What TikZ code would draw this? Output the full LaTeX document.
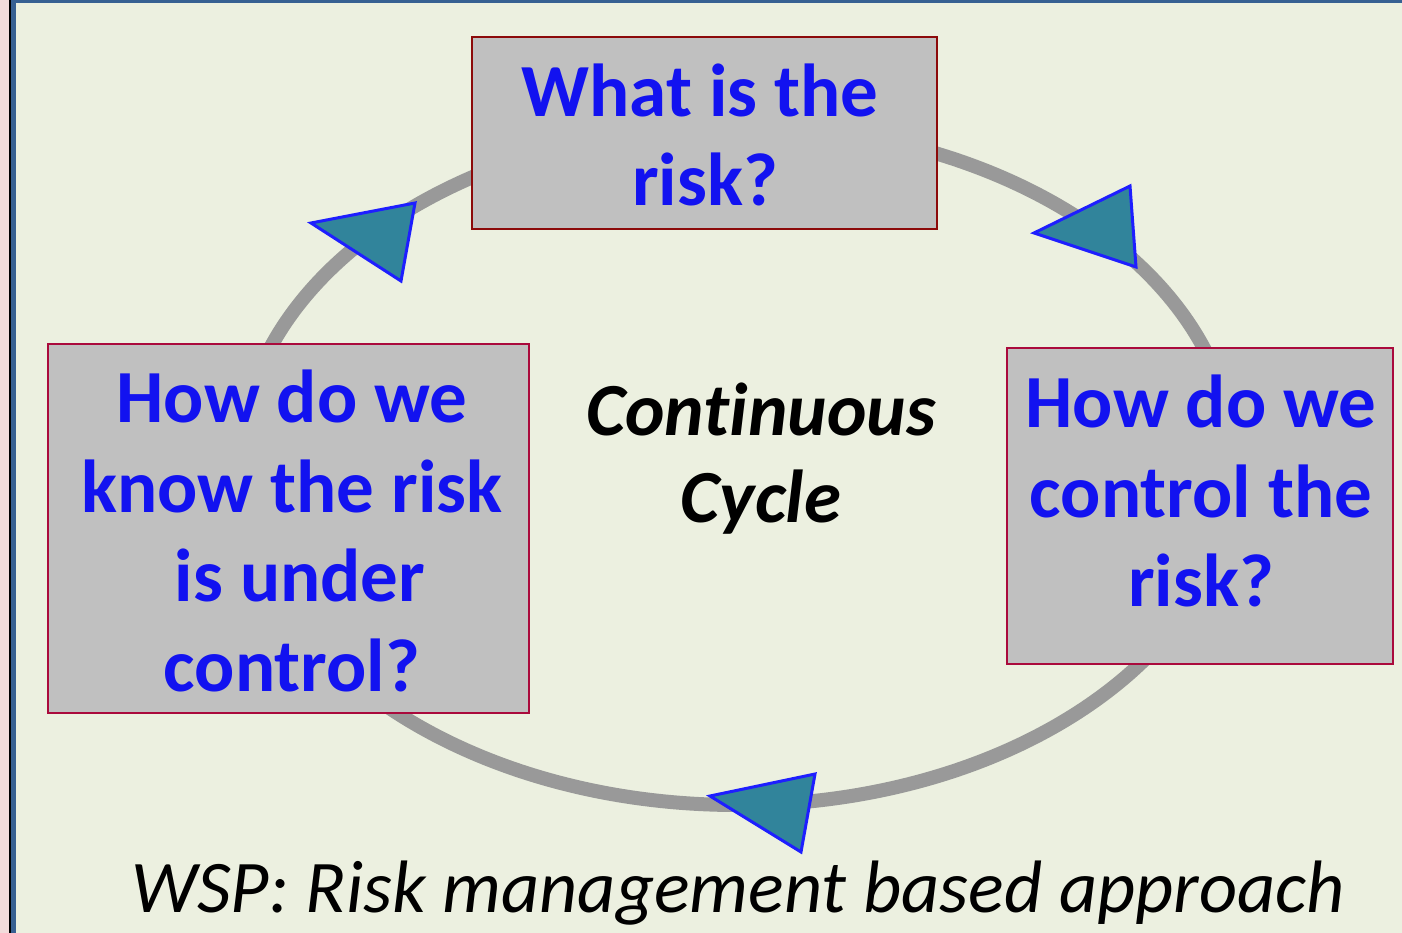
\documentclass[tikz,border=0pt]{standalone}
\usepackage{fontspec}
\setmainfont{Carlito}[Ligatures=NoCommon]
\usetikzlibrary{positioning}
\definecolor{bgColor}{RGB}{236,240,224}
\definecolor{sideColor}{RGB}{242,220,219}
\definecolor{frameColor}{RGB}{55,96,146}
\definecolor{boxFill}{RGB}{192,192,192}
\definecolor{topBorder}{RGB}{140,10,10}
\definecolor{sideBorder}{RGB}{170,10,60}
\definecolor{questionBlue}{RGB}{18,18,240}
\definecolor{markFill}{RGB}{49,132,155}
\definecolor{markBorder}{RGB}{30,30,255}
\definecolor{cycleGray}{RGB}{153,153,153}
\tikzstyle{slide} = [x = 1pt, y = -1pt]
\tikzstyle{cycleLine} = [draw=cycleGray, line width=14pt]
\tikzstyle{questionBox} = [draw=sideBorder, fill=boxFill, line width=2pt, rectangle, inner sep=0pt]
\tikzstyle{questionText} = [text=questionBlue, font=\fontsize{75}{89.5}\selectfont\bfseries, align=center, inner sep=0pt]
\tikzstyle{cycleText} = [font=\fontsize{75}{87}\selectfont\bfseries\itshape, align=center, inner sep=0pt]
\tikzstyle{captionText} = [font=\fontsize{74.3}{90}\selectfont\itshape, inner sep=0pt, anchor=base]
\tikzstyle{markStyle} = [fill=markFill, draw=markBorder, line width=3pt, line join=miter]
\newcommand{\cycleMark}[3]{\filldraw [markStyle] (#1) -- (#2) -- (#3) -- cycle;}

\begin{document}
\begin{tikzpicture}[slide]
  \useasboundingbox (0,0) rectangle (1402,933);
  % slide background and frame
  \fill [bgColor] (0,0) rectangle (1402,933);
  \fill [sideColor] (0,0) rectangle (9,933);
  \fill [black] (9,0) rectangle (11,933);
  \fill [frameColor] (11,0) rectangle (16,933);
  \fill [frameColor] (11,0) rectangle (1402,3);
  % the cycle
  \draw [cycleLine] (737,465) ellipse [x radius=497, y radius=340];
  % question boxes
  \node [questionBox, draw=topBorder, minimum width=465pt, minimum height=192pt] (riskBox) at (704.5,133) {};
  \node [questionBox, minimum width=481pt, minimum height=369pt] (knowBox) at (288.5,528.5) {};
  \node [questionBox, minimum width=386pt, minimum height=316pt] (controlBox) at (1200,506) {};
  \node [questionText] (riskText) at (700,135) {What is the\\\hspace*{10pt}risk?};
  \node [questionText] (knowText) at (292,531) {How do we\\know the risk\\\hspace*{16pt}is under\\control?};
  \node [questionText] (controlText) at (1201,491) {How do we\\control the\\risk?};
  % direction marks
  \coordinate (markA1) at (311,223);
  \coordinate (markA2) at (415,203);
  \coordinate (markA3) at (401,281);
  \coordinate (markB1) at (1034,233);
  \coordinate (markB2) at (1130,186);
  \coordinate (markB3) at (1136,267);
  \coordinate (markC1) at (710,796);
  \coordinate (markC2) at (815,774);
  \coordinate (markC3) at (801,852);
  \cycleMark{markA1}{markA2}{markA3}
  \cycleMark{markB1}{markB2}{markB3}
  \cycleMark{markC1}{markC2}{markC3}
  % texts
  \node [cycleText] (cycleLabel) at (761,459) {Continuous\\Cycle};
  \node [captionText] (caption) at (738,912) {WSP: Risk management based approach};
\end{tikzpicture}
\end{document}
